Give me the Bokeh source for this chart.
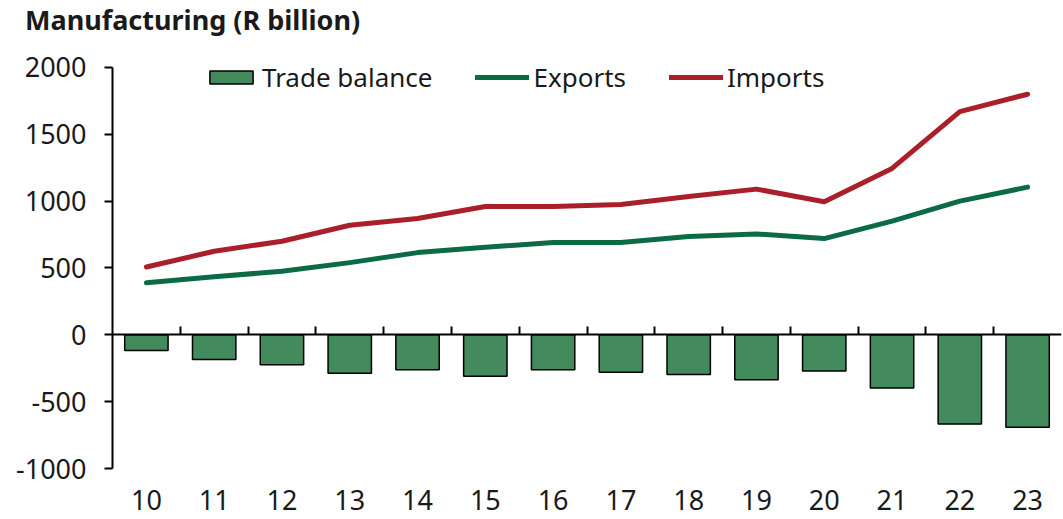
from bokeh.plotting import figure
from bokeh.layouts import column
from bokeh.models import (ColumnDataSource, LinearAxis, FixedTicker, Range1d,
                          Legend, LegendItem, Div)
from bokeh.embed import file_html
from bokeh.resources import INLINE

title_text = "Manufacturing (R billion)"
years = [10, 11, 12, 13, 14, 15, 16, 17, 18, 19, 20, 21, 22, 23]
year_labels = ["10", "11", "12", "13", "14", "15", "16", "17", "18", "19", "20", "21", "22", "23"]
exports = [390, 435, 475, 540, 615, 655, 690, 690, 735, 755, 720, 850, 1000, 1105]
imports = [507, 625, 700, 820, 870, 960, 960, 975, 1035, 1090, 995, 1245, 1670, 1800]
trade_balance = [-117, -185, -223, -287, -262, -310, -262, -280, -297, -337, -270, -397, -667, -692]
y_ticks = [-1000, -500, 0, 500, 1000, 1500, 2000]
y_tick_labels = ["-1000", "-500", "0", "500", "1000", "1500", "2000"]
y_min, y_max = -1000, 2000

FONT = "Noto Sans"
TXT = "#1a1a1a"
BAR = "#438a5c"
EXP = "#0b6b44"
IMP = "#ab1f2a"

src = ColumnDataSource(dict(x=years, tb=trade_balance, ex=exports, im=imports))

title = Div(text=title_text, width=1062, height=40, margin=(0, 0, 0, 0),
            styles={"font-family": FONT, "font-size": "27px", "font-weight": "bold",
                    "color": TXT, "line-height": "40px", "padding-left": "25px",
                    "white-space": "nowrap"})

# extra headroom above the top tick so the legend is not clipped by the frame
p = figure(width=1062, height=478, output_backend="svg", toolbar_location=None,
           x_range=Range1d(9.5, 23.5), y_range=Range1d(y_min, y_max + 112),
           x_axis_location=None, y_axis_location=None,
           min_border_left=112, min_border_right=1, min_border_top=12, min_border_bottom=50,
           outline_line_color=None, background_fill_color="white", border_fill_color="white",
           margin=(0, 0, 0, 0))
p.grid.visible = False

bars = p.vbar(x="x", top="tb", bottom=0, width=0.64, source=src,
              fill_color=BAR, line_color="black", line_width=1.5)
l_ex = p.line(x="x", y="ex", source=src, line_color=EXP, line_width=5, line_cap="round", line_join="round")
l_im = p.line(x="x", y="im", source=src, line_color=IMP, line_width=5, line_cap="round", line_join="round")

# y axis
yax = LinearAxis(ticker=FixedTicker(ticks=y_ticks), bounds=(y_min, y_max),
                 major_label_overrides={t: s for t, s in zip(y_ticks, y_tick_labels)})
yax.axis_line_color = "black"
yax.axis_line_width = 2
yax.major_tick_line_color = "black"
yax.major_tick_line_width = 2
yax.major_tick_out = 8
yax.major_tick_in = 0
yax.minor_tick_line_color = None
yax.major_label_text_font = FONT
yax.major_label_text_font_size = "27px"
yax.major_label_text_color = TXT
yax.major_label_standoff = 18
p.add_layout(yax, "left")

# zero-line axis with ticks between categories
zax = LinearAxis(ticker=FixedTicker(ticks=[y + 0.5 for y in years[:-1]]), fixed_location=0)
zax.axis_line_color = "black"
zax.axis_line_width = 2
zax.major_tick_line_color = "black"
zax.major_tick_line_width = 2
zax.major_tick_in = 8
zax.major_tick_out = 0
zax.minor_tick_line_color = None
zax.major_label_text_color = None
zax.major_label_text_font_size = "1px"
zax.major_label_standoff = 0
p.add_layout(zax, "below")

# category labels axis
xax = LinearAxis(ticker=FixedTicker(ticks=years),
                 major_label_overrides={y: s for y, s in zip(years, year_labels)})
xax.axis_line_color = None
xax.major_tick_line_color = None
xax.minor_tick_line_color = None
xax.major_label_text_font = FONT
xax.major_label_text_font_size = "27px"
xax.major_label_text_color = TXT
xax.major_label_standoff = 15
p.add_layout(xax, "below")

legend = Legend(items=[
    LegendItem(label="Trade balance", renderers=[bars]),
    LegendItem(label="Exports", renderers=[l_ex]),
    LegendItem(label="Imports", renderers=[l_im]),
], orientation="horizontal", location=(92, 373))
legend.label_text_font = FONT
legend.label_text_font_size = "26px"
legend.label_text_color = TXT
legend.label_height = 36
legend.glyph_width = 54
legend.glyph_height = 16
legend.label_standoff = 4
legend.spacing = 43
legend.padding = 0
legend.margin = 0
legend.border_line_color = None
legend.background_fill_alpha = 0
p.add_layout(legend)

layout = column(title, p, spacing=0, margin=(0, 0, 0, 0))
open("out.html", "w").write(file_html(layout, INLINE))
